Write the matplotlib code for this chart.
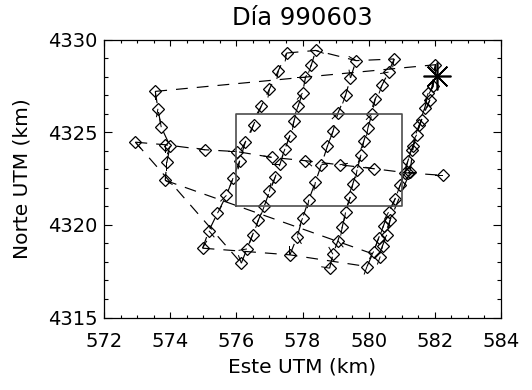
import numpy as np
import matplotlib
matplotlib.use("Agg")
import matplotlib.pyplot as plt
from matplotlib.ticker import MultipleLocator, FixedLocator

# ---------------- data (km, UTM) ----------------
title = "Día 990603"
xlabel = "Este UTM (km)"
ylabel = "Norte UTM (km)"

# east-west transect
cross_x = [572.95, 573.85, 575.05, 576.02, 577.07, 578.09, 579.12, 580.15, 581.18, 582.25]
cross_y = [4324.46, 4324.32, 4324.05, 4323.95, 4323.64, 4323.46, 4323.24, 4323.03, 4322.80, 4322.67]
cross_dir = [140, 180, 280, 270, 280, 130, 80, 280, 90, 270]

leg_a_x = [573.55, 573.63, 573.73, 574.00, 573.90, 573.85]
leg_a_y = [4327.20, 4326.26, 4325.27, 4324.24, 4323.39, 4322.40]
leg_a_dir = [180, 190, 350, 200, 180, 120]

leg_b_x = [574.98, 575.17, 575.43, 575.70, 575.90, 576.10, 576.27, 576.52, 576.75, 577.00, 577.27, 577.52]
leg_b_y = [4318.74, 4319.68, 4320.63, 4321.59, 4322.52, 4323.45, 4324.46, 4325.40, 4326.39, 4327.32, 4328.32, 4329.27]
leg_b_dir = [30, 140, 30, 225, 200, 190, 210, 200, 210, 190, 190, 190]

leg_c_x = [576.15, 576.32, 576.49, 576.67, 576.84, 577.00, 577.17, 577.32, 577.47, 577.62, 577.74, 577.87, 578.00, 578.09, 578.27, 578.40]
leg_c_y = [4317.93, 4318.70, 4319.46, 4320.27, 4320.99, 4321.80, 4322.56, 4323.28, 4324.10, 4324.82, 4325.58, 4326.42, 4327.11, 4327.95, 4328.64, 4329.41]
leg_c_dir = [340, 260, 200, 200, 200, 10, 200, 270, 200, 200, 190, 200, 220, 270, 200, 110]

leg_d_x = [577.62, 577.84, 578.00, 578.19, 578.39, 578.57, 578.75, 578.92, 579.07, 579.30, 579.45, 579.62]
leg_d_y = [4318.38, 4319.37, 4320.36, 4321.35, 4322.31, 4323.24, 4324.23, 4325.04, 4326.03, 4326.98, 4327.92, 4328.86]
leg_d_dir = [0, 150, 200, 190, 190, 80, 20, 200, 225, 200, 350, 300]

leg_e_x = [578.82, 578.92, 579.07, 579.20, 579.30, 579.44, 579.52, 579.65, 579.77, 579.85, 579.98, 580.10, 580.20, 580.40, 580.60, 580.77]
leg_e_y = [4317.66, 4318.41, 4319.14, 4319.87, 4320.67, 4321.48, 4322.20, 4322.97, 4323.78, 4324.50, 4325.25, 4325.99, 4326.80, 4327.52, 4328.24, 4328.95]
leg_e_dir = [280, 330, 140, 190, 190, 200, 200, 190, 200, 200, 190, 225, 200, 200, 260, 190]

leg_f_x = [579.95, 580.15, 580.30, 580.45, 580.60, 580.80, 580.95, 581.10, 581.18, 581.30, 581.45, 581.60, 581.70, 581.80, 581.95, 582.02,
           581.85, 581.52, 581.35, 581.25, 580.65, 580.55, 580.42, 580.35]
leg_f_y = [4317.75, 4318.56, 4319.28, 4319.96, 4320.68, 4321.41, 4322.13, 4322.79, 4323.42, 4324.05, 4324.86, 4325.67, 4326.33, 4327.11, 4327.47, 4328.64,
           4326.75, 4325.36, 4324.23, 4322.85, 4320.27, 4319.46, 4318.88, 4318.29]
leg_f_dir = [200, 210, 200, 200, 210, 200, 200, 210, 200, 200, 210, 200, 200, 200, 210, 180,
             200, 200, 210, 200, 200, 210, 200, 200]

# transit connections (no samples)
conn1_x = [573.55, 582.02]
conn1_y = [4327.20, 4328.64]
conn2_x = [572.95, 576.15]
conn2_y = [4324.46, 4317.93]
conn3_x = [573.85, 580.35]
conn3_y = [4322.40, 4318.29]
conn4_x = [574.98, 577.62, 579.95]
conn4_y = [4318.74, 4318.38, 4317.75]
conn5_x = [577.52, 578.40, 579.62, 580.77]
conn5_y = [4329.27, 4329.41, 4328.86, 4328.95]

# reference point and study box
star_x, star_y = 582.08, 4328.01
box_x = [576.0, 581.0, 581.0, 576.0, 576.0]
box_y = [4321.0, 4321.0, 4326.0, 4326.0, 4321.0]

xlim = (572, 584)
ylim = (4315, 4330)
xticks = [572, 574, 576, 578, 580, 582, 584]
yticks = [4315, 4320, 4325, 4330]

# ---------------- figure ----------------
plt.rcParams['font.family'] = ['DejaVu Sans']
plt.rcParams['lines.scale_dashes'] = False

W, H = 532, 390
fig = plt.figure(figsize=(W / 100, H / 100), dpi=100)
ax = fig.add_axes([104 / W, 1 - 317.5 / H, (501 - 104) / W, (317.5 - 39.5) / H])

lw = 0.85
dash = (0, (8.5, 6.5))

legs = [
    (cross_x, cross_y, cross_dir),
    (leg_a_x, leg_a_y, leg_a_dir),
    (leg_b_x, leg_b_y, leg_b_dir),
    (leg_c_x, leg_c_y, leg_c_dir),
    (leg_d_x, leg_d_y, leg_d_dir),
    (leg_e_x, leg_e_y, leg_e_dir),
    (leg_f_x, leg_f_y, leg_f_dir),
]
conns = [(conn1_x, conn1_y), (conn2_x, conn2_y), (conn3_x, conn3_y),
         (conn4_x, conn4_y), (conn5_x, conn5_y)]

for cx, cy in conns:
    ax.plot(cx, cy, color='black', lw=lw, linestyle=dash)

for lx, ly, ld in legs:
    ax.plot(lx, ly, color='black', lw=lw, linestyle=dash)
    ax.plot(lx, ly, linestyle='none', marker='D', ms=6.0, mfc='none',
            mec='black', mew=0.9)
    a = np.deg2rad(np.array(ld, dtype=float))
    ax.quiver(lx, ly, np.sin(a), np.cos(a), angles='uv', scale_units='dots',
              scale=1 / 8.5, units='dots', width=1.0, headwidth=0,
              headlength=0, headaxislength=0, pivot='tail', color='black')

ax.plot(box_x, box_y, color='0.3', lw=1.2)
ax.plot([star_x], [star_y], linestyle='none', marker=(8, 2, 0), ms=20,
        mec='black', mew=1.2)

ax.set_xlim(*xlim)
ax.set_ylim(*ylim)
ax.xaxis.set_major_locator(FixedLocator(xticks))
ax.yaxis.set_major_locator(FixedLocator(yticks))
ax.xaxis.set_minor_locator(MultipleLocator(0.5))
ax.yaxis.set_minor_locator(MultipleLocator(1))
ax.set_xticklabels([str(t) for t in xticks])
ax.set_yticklabels([str(t) for t in yticks])

ax.tick_params(which='both', direction='in', top=True, right=True,
               width=0.8, colors='black', labelsize=14)
ax.tick_params(axis='x', which='major', length=4.2, pad=10.5)
ax.tick_params(axis='x', which='minor', length=2.1)
ax.tick_params(axis='y', which='major', length=5.6, pad=4.5)
ax.tick_params(axis='y', which='minor', length=2.9)
for s in ax.spines.values():
    s.set_linewidth(0.9)

ax.set_xlabel(xlabel, fontsize=14.5, va='center')
ax.xaxis.set_label_coords(0.5, -(367 - 317.5) / 278)
ax.set_ylabel(ylabel, fontsize=14.5, va='center', ha='center')
ax.yaxis.set_label_coords(-(104 - 22) / 397, 0.5)

fig.text(302.5 / W, 1 - 18 / H, title, fontsize=17.5, ha='center', va='center')

fig.savefig('out.png', dpi=100)
